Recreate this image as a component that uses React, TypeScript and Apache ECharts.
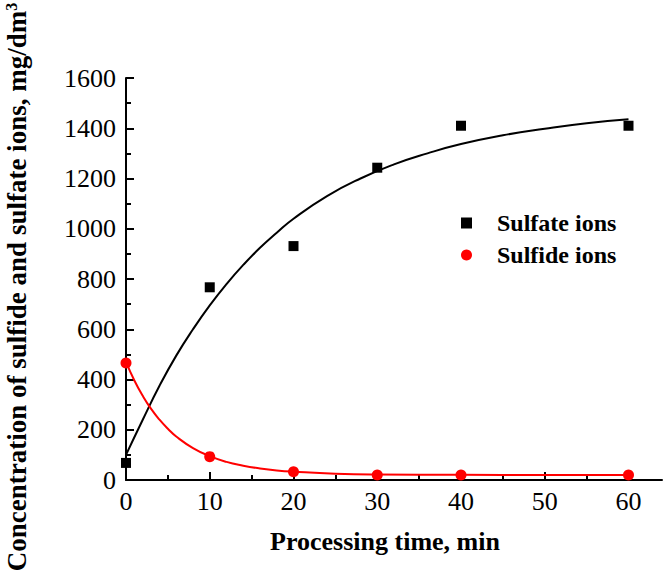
import React, { useEffect, useRef } from "react";
import * as echarts from "echarts";

const sulfateX = [0, 10, 20, 30, 40, 60];
const sulfateY = [68, 767, 931, 1243, 1410, 1410];
const sulfideX = [0, 10, 20, 30, 40, 60];
const sulfideY = [466, 93, 33, 20, 20, 20];

const sulfateFitX = [0, 2, 4, 6, 8, 10, 12, 14, 16, 18, 20, 24, 28, 32, 36, 40, 45, 50, 55, 60];
const sulfateFitY = [100, 240, 375, 495, 600, 695, 780, 856, 924, 984, 1040, 1130, 1200, 1256, 1300, 1337, 1372, 1398, 1420, 1436];
const sulfideFitX = [0, 1, 2, 3, 4, 5, 6, 8, 10, 12, 14, 16, 18, 20, 25, 30, 40, 50, 60];
const sulfideFitY = [470, 396, 335, 283, 240, 204, 173, 127, 95, 72, 57, 46, 38, 33, 25, 22, 21, 20, 20];

const xMajor = [0, 10, 20, 30, 40, 50, 60];
const xMinor = [5, 15, 25, 35, 45, 55];

const FONT = "Liberation Serif";

export default function App() {
  const ref = useRef<HTMLDivElement>(null);
  useEffect(() => {
    if (!ref.current) return;
    const chart = echarts.init(ref.current, null, { renderer: "svg" });
    const zip = (xs: number[], ys: number[]) => xs.map((x, i) => [x, ys[i]]);
    chart.setOption({
      animation: false,
      backgroundColor: "#ffffff",
      textStyle: { fontFamily: FONT, color: "#000" },
      grid: { left: 126, top: 78, right: 3, bottom: 93, containLabel: false, outerBoundsMode: "none" },
      legend: {
        orient: "vertical",
        left: 456,
        top: 206,
        itemGap: 8,
        itemWidth: 11,
        itemHeight: 11,
        data: ["Sulfate ions", "Sulfide ions"],
        textStyle: {
          fontFamily: FONT,
          fontWeight: "bold",
          fontSize: 24,
          color: "#000",
          padding: [0, 0, 0, 20],
        },
      },
      xAxis: [
        {
          type: "value",
          min: 0,
          max: 64,
          position: "bottom",
          name: "Processing time, min",
          nameLocation: "middle",
          nameGap: 48,
          nameTextStyle: { fontFamily: FONT, fontWeight: "bold", fontSize: 26, color: "#000", padding: [0, 18, 0, 0] },
          axisLine: { show: true, lineStyle: { color: "#000", width: 2 } },
          axisTick: { show: true, inside: true, length: 8, customValues: xMajor, lineStyle: { color: "#000", width: 2 } },
          axisLabel: { customValues: xMajor, fontFamily: FONT, fontSize: 26, color: "#000", margin: 8, formatter: (v: number) => String(v) },
          splitLine: { show: false },
        },
        {
          type: "value",
          min: 0,
          max: 64,
          position: "bottom",
          axisLine: { show: false },
          axisTick: { show: true, inside: true, length: 5, customValues: xMinor, lineStyle: { color: "#000", width: 2 } },
          axisLabel: { show: false },
          splitLine: { show: false },
        },
      ],
      yAxis: {
        type: "value",
        min: 0,
        max: 1600,
        interval: 200,
        name: "{t|Concentration of sulfide and sulfate ions, mg/dm}{s|3}",
        nameLocation: "middle",
        nameGap: 96,
        nameTextStyle: {
          padding: [0, 16, 0, 0],
          rich: {
            t: { fontFamily: FONT, fontWeight: "bold", fontSize: 27, color: "#000" },
            s: { fontFamily: FONT, fontWeight: "bold", fontSize: 16, color: "#000", verticalAlign: "top", padding: [0, 0, 10, 0] },
          },
        },
        axisLine: { show: true, lineStyle: { color: "#000", width: 2 } },
        axisTick: { show: true, inside: true, length: 8, lineStyle: { color: "#000", width: 2 } },
        minorTick: { show: true, splitNumber: 2, length: 5, lineStyle: { color: "#000", width: 2 } },
        axisLabel: { fontFamily: FONT, fontSize: 26, color: "#000", margin: 10, formatter: (v: number) => String(v) },
        splitLine: { show: false },
        minorSplitLine: { show: false },
      },
      series: [
        {
          name: "Sulfate fit",
          type: "line",
          xAxisIndex: 0,
          data: zip(sulfateFitX, sulfateFitY),
          smooth: true,
          showSymbol: false,
          symbol: "none",
          lineStyle: { color: "#000", width: 2 },
          z: 2,
        },
        {
          name: "Sulfide fit",
          type: "line",
          xAxisIndex: 0,
          data: zip(sulfideFitX, sulfideFitY),
          smooth: true,
          showSymbol: false,
          symbol: "none",
          lineStyle: { color: "#ff0000", width: 2 },
          z: 2,
        },
        {
          name: "Sulfate ions",
          type: "scatter",
          xAxisIndex: 0,
          data: zip(sulfateX, sulfateY),
          symbol: "rect",
          symbolSize: 10,
          itemStyle: { color: "#000", opacity: 1 },
          z: 3,
        },
        {
          name: "Sulfide ions",
          type: "scatter",
          xAxisIndex: 0,
          data: zip(sulfideX, sulfideY),
          symbol: "circle",
          symbolSize: 11,
          itemStyle: { color: "#ff0000", opacity: 1 },
          z: 3,
        },
      ],
    });
    return () => chart.dispose();
  }, []);
  return <div ref={ref} style={{ width: 665, height: 573, position: "absolute", left: 0, top: 0 }} />;
}
